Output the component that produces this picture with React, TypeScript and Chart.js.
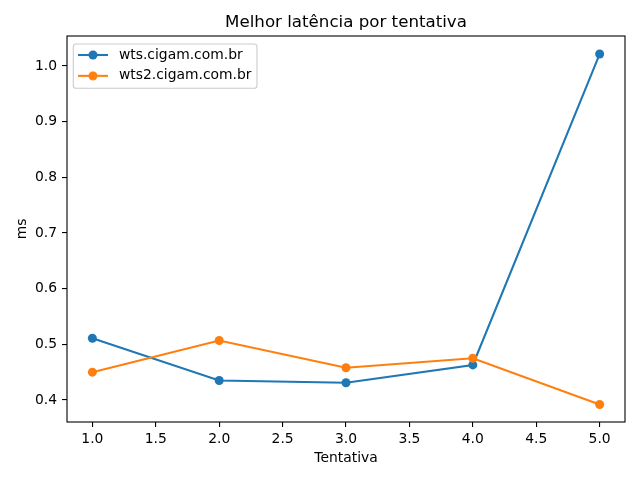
import React, { useEffect, useRef } from "react";
import { Chart, registerables } from "chart.js";

Chart.register(...registerables);

const attempts = [1, 2, 3, 4, 5];
const wtsValues = [0.511, 0.435, 0.431, 0.463, 1.0215];
const wts2Values = [0.45, 0.507, 0.458, 0.475, 0.392];
const seriesNames = ["wts.cigam.com.br", "wts2.cigam.com.br"];
const seriesColors = ["#1f77b4", "#ff7f0e"];
const xTicks = [1.0, 1.5, 2.0, 2.5, 3.0, 3.5, 4.0, 4.5, 5.0];
const yTicks = [0.4, 0.5, 0.6, 0.7, 0.8, 0.9, 1.0];
const titleText = "Melhor latência por tentativa";
const xLabel = "Tentativa";
const yLabel = "ms";

const FONT = "'DejaVu Sans', sans-serif";
const SMALL = 13.89;
const BIG = 16.67;

function makeHandle(color: string): HTMLCanvasElement {
  const c = document.createElement("canvas");
  c.width = 34;
  c.height = 12;
  const ctx = c.getContext("2d")!;
  ctx.strokeStyle = color;
  ctx.lineWidth = 2.08;
  ctx.beginPath();
  ctx.moveTo(0, 6);
  ctx.lineTo(30, 6);
  ctx.stroke();
  ctx.fillStyle = color;
  ctx.beginPath();
  ctx.arc(15, 6, 4.5, 0, Math.PI * 2);
  ctx.fill();
  return c;
}

const legendFrame = {
  id: "legendFrame",
  afterLayout(chart: any) {
    const lg = chart.legend;
    if (!lg) return;
    const ca = chart.chartArea;
    lg.left = ca.left + 4;
    lg.top = ca.top + 5;
    lg.right = ca.right;
    lg.bottom = ca.bottom;
  },
  beforeDraw(chart: any) {
    const lg = chart.legend;
    if (!lg) return;
    const ctx = chart.ctx;
    ctx.save();
    ctx.font = `${SMALL}px ${FONT}`;
    const maxW = Math.max(...seriesNames.map((t) => ctx.measureText(t).width));
    const x0 = lg.left + 7 - 4.7;
    const textStart = lg.left + 7 + 34 + SMALL / 2;
    const x1 = textStart + maxW + 5.5;
    const y0 = lg.top + 3;
    const y1 = y0 + 44.3;
    const r = 2.8;
    ctx.beginPath();
    ctx.moveTo(x0 + r, y0);
    ctx.lineTo(x1 - r, y0);
    ctx.arcTo(x1, y0, x1, y0 + r, r);
    ctx.lineTo(x1, y1 - r);
    ctx.arcTo(x1, y1, x1 - r, y1, r);
    ctx.lineTo(x0 + r, y1);
    ctx.arcTo(x0, y1, x0, y1 - r, r);
    ctx.lineTo(x0, y0 + r);
    ctx.arcTo(x0, y0, x0 + r, y0, r);
    ctx.closePath();
    ctx.fillStyle = "rgba(255,255,255,0.8)";
    ctx.fill();
    ctx.strokeStyle = "#cccccc";
    ctx.lineWidth = 1.1;
    ctx.stroke();
    ctx.restore();
  },
};

const frame = {
  id: "frame",
  afterDatasetsDraw(chart: any) {
    const { left, right, top, bottom } = chart.chartArea;
    const ctx = chart.ctx;
    ctx.save();
    ctx.strokeStyle = "#000";
    ctx.lineWidth = 1.1;
    ctx.strokeRect(left, top, right - left, bottom - top);
    ctx.restore();
  },
};

export default function App() {
  const ref = useRef<HTMLCanvasElement | null>(null);

  useEffect(() => {
    if (!ref.current) return;
    const handles = seriesColors.map(makeHandle);
    const valueSets = [wtsValues, wts2Values];
    const chart = new Chart(ref.current, {
      type: "line",
      data: {
        datasets: valueSets.map((vals, i) => ({
          label: seriesNames[i],
          data: attempts.map((a, j) => ({ x: a, y: vals[j] })),
          borderColor: seriesColors[i],
          backgroundColor: seriesColors[i],
          pointBackgroundColor: seriesColors[i],
          pointBorderWidth: 0,
          pointRadius: 4.5,
          borderWidth: 2.08,
          tension: 0,
          fill: false,
          order: valueSets.length - i,
        })),
      },
      options: {
        animation: false,
        responsive: false,
        layout: { padding: { left: 0, right: 15, top: 0, bottom: 0 } },
        plugins: {
          title: {
            display: true,
            text: titleText,
            fullSize: false,
            color: "#000",
            font: { family: FONT, size: BIG, weight: "normal", lineHeight: 1.2 },
            padding: { top: 12.2, bottom: 3.8 },
          },
          legend: {
            display: true,
            position: "chartArea",
            align: "start",
            labels: {
              usePointStyle: true,
              pointStyleWidth: 34,
              padding: 7,
              color: "#000",
              font: { family: FONT, size: SMALL },
              generateLabels: () =>
                seriesNames.map((name, i) => ({
                  text: name,
                  pointStyle: handles[i] as any,
                  fillStyle: seriesColors[i],
                  strokeStyle: seriesColors[i],
                  lineWidth: 0,
                  hidden: false,
                  datasetIndex: i,
                  fontColor: "#000",
                })),
            },
          },
          tooltip: { enabled: false },
        },
        scales: {
          x: {
            type: "linear",
            min: 0.8,
            max: 5.2,
            afterBuildTicks: (s: any) => {
              s.ticks = xTicks.map((value) => ({ value }));
            },
            afterFit: (s: any) => {
              s.height = 58;
            },
            border: { display: false },
            grid: { drawOnChartArea: false, drawTicks: true, tickLength: 5, color: "#000", lineWidth: 1.1 },
            ticks: {
              autoSkip: false,
              maxRotation: 0,
              padding: 4,
              color: "#000",
              font: { family: FONT, size: SMALL },
              callback: (v: any) => Number(v).toFixed(1),
            },
            title: {
              display: true,
              text: xLabel,
              color: "#000",
              font: { family: FONT, size: SMALL, lineHeight: 1.2 },
              padding: { top: 0, bottom: 13.4 },
            },
          },
          y: {
            type: "linear",
            min: 0.3605,
            max: 1.0539,
            afterBuildTicks: (s: any) => {
              s.ticks = yTicks.map((value) => ({ value }));
            },
            afterFit: (s: any) => {
              s.width = 67;
            },
            border: { display: false },
            grid: { drawOnChartArea: false, drawTicks: true, tickLength: 5, color: "#000", lineWidth: 1.1 },
            ticks: {
              autoSkip: false,
              padding: 5,
              color: "#000",
              font: { family: FONT, size: SMALL },
              callback: (v: any) => Number(v).toFixed(1),
            },
            title: {
              display: true,
              text: yLabel,
              color: "#000",
              font: { family: FONT, size: SMALL, lineHeight: 1.2 },
              padding: { top: 13.7, bottom: 0 },
            },
          },
        },
      },
      plugins: [legendFrame, frame],
    });
    return () => chart.destroy();
  }, []);

  return (
    <div style={{ position: "absolute", left: 0, top: 0, width: 640, height: 480, background: "#fff" }}>
      <canvas ref={ref} width={640} height={480} />
    </div>
  );
}
